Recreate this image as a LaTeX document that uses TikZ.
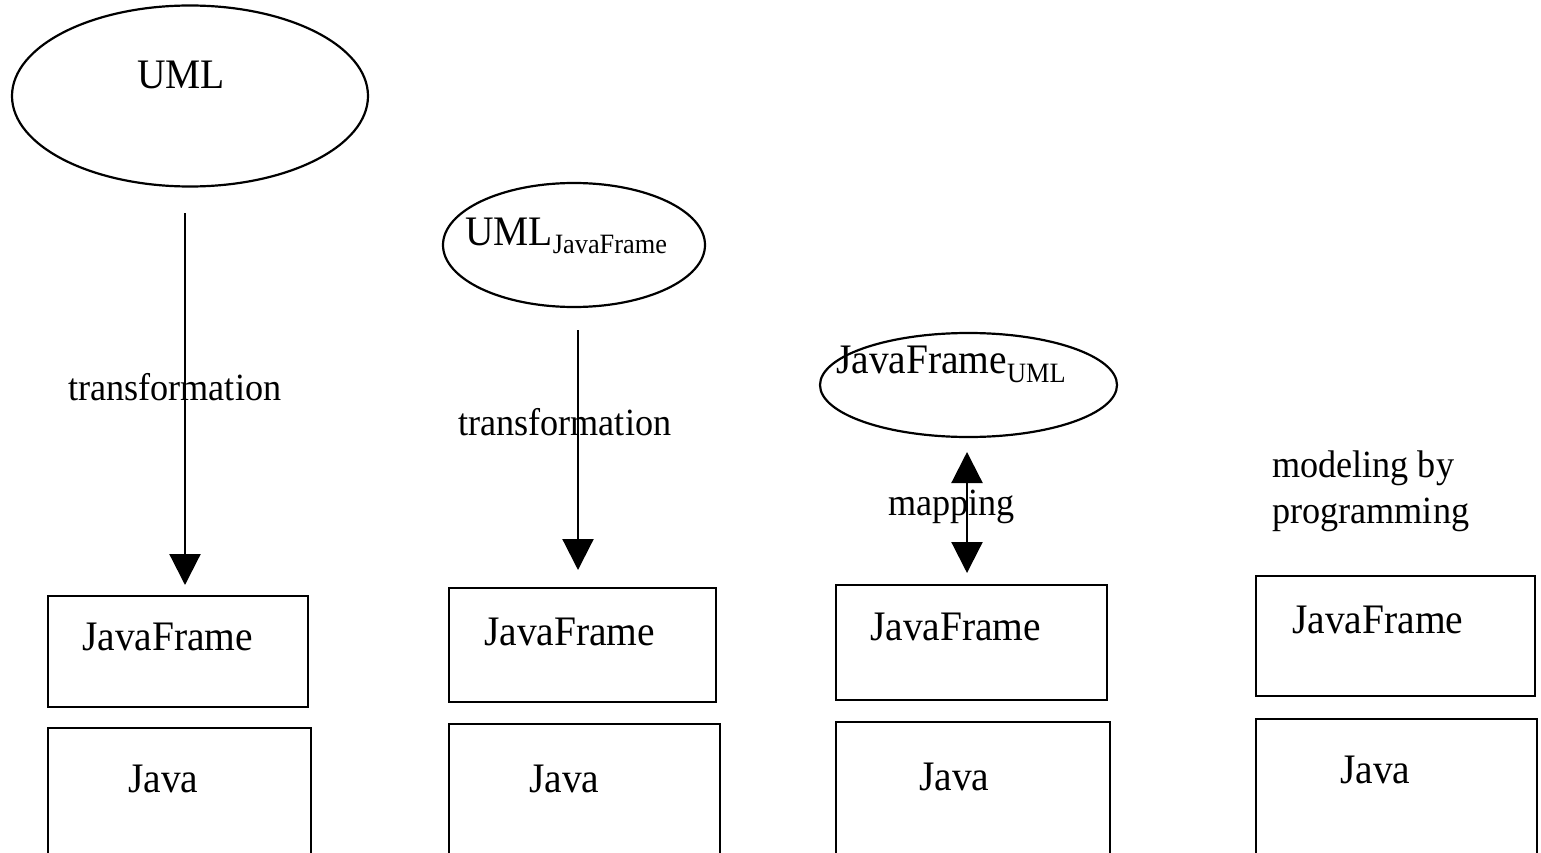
\documentclass[tikz,border=0pt]{standalone}
\usepackage{fontspec}
\setmainfont[FakeStretch=0.94]{Liberation Serif}
\usetikzlibrary{arrows.meta,shapes.geometric}
\tikzset{
  ell/.style={draw, line width=2.2pt, ellipse, inner sep=0pt},
  box/.style={draw, line width=2.8pt, rectangle, inner sep=0pt},
  txt/.style={anchor=base west, inner sep=0pt, font=\fontsize{42}{50}\selectfont},
  lbl/.style={anchor=base west, inner sep=0pt, font=\fontsize{38.5}{46}\selectfont},
  conn/.style={line width=2.2pt, -{Triangle[width=31pt,length=31pt]}},
  biconn/.style={line width=2.2pt, {Triangle[width=31pt,length=31pt]}-{Triangle[width=31pt,length=31pt]}}
}
\newcommand{\subtxt}[1]{{\fontsize{28}{32}\selectfont #1}}
\begin{document}
\begin{tikzpicture}[x=1pt,y=-1pt]
\clip (0,0) rectangle (1541,853);
\fill[white] (0,0) rectangle (1541,853);

% column 1
\node[ell, minimum width=356pt, minimum height=181pt] (uml) at (190,96) {};
\node[txt] (umlt) at (137,89) {UML};
\coordinate (a1s) at (185,213);
\coordinate (a1e) at (185,585);
\draw[conn] (a1s) -- (a1e);
\node[lbl] (tr1) at (68,400) {transformation};
\node[box, minimum width=260pt, minimum height=111pt] (jf1) at (178,651.5) {};
\node[txt] (jf1t) at (82,650) {JavaFrame};
\node[box, minimum width=263pt, minimum height=172pt] (j1) at (179.5,814) {};
\node[txt] (j1t) at (128,792) {Java};

% column 2
\node[ell, minimum width=262pt, minimum height=124pt] (umljf) at (574,245) {};
\node[txt] (umljft) at (465,245) {UML\raisebox{-8pt}{\subtxt{JavaFrame}}};
\coordinate (a2s) at (578,330);
\coordinate (a2e) at (578,570);
\draw[conn] (a2s) -- (a2e);
\node[lbl] (tr2) at (458,435) {transformation};
\node[box, minimum width=267pt, minimum height=114pt] (jf2) at (582.5,645) {};
\node[txt] (jf2t) at (484,645) {JavaFrame};
\node[box, minimum width=271pt, minimum height=176pt] (j2) at (584.5,812) {};
\node[txt] (j2t) at (529,792) {Java};

% column 3
\node[ell, minimum width=297pt, minimum height=104pt] (jfuml) at (968.5,385) {};
\node[txt] (jfumlt) at (836,373) {JavaFrame\raisebox{-9pt}{\subtxt{UML}}};
\coordinate (a3s) at (967,452);
\coordinate (a3e) at (967,573);
\draw[biconn] (a3s) -- (a3e);
\node[lbl] (map) at (888,515) {mapping};
\node[box, minimum width=271pt, minimum height=115pt] (jf3) at (971.5,642.5) {};
\node[txt] (jf3t) at (870,640) {JavaFrame};
\node[box, minimum width=274pt, minimum height=178pt] (j3) at (973,811) {};
\node[txt] (j3t) at (919,790) {Java};

% column 4
\node[lbl] (mod1) at (1272,477) {modeling by};
\node[lbl] (mod2) at (1272,523) {programming};
\node[box, minimum width=279pt, minimum height=120pt] (jf4) at (1395.5,636) {};
\node[txt] (jf4t) at (1292,633) {JavaFrame};
\node[box, minimum width=281pt, minimum height=181pt] (j4) at (1396.5,809.5) {};
\node[txt] (j4t) at (1340,783) {Java};
\end{tikzpicture}
\end{document}
